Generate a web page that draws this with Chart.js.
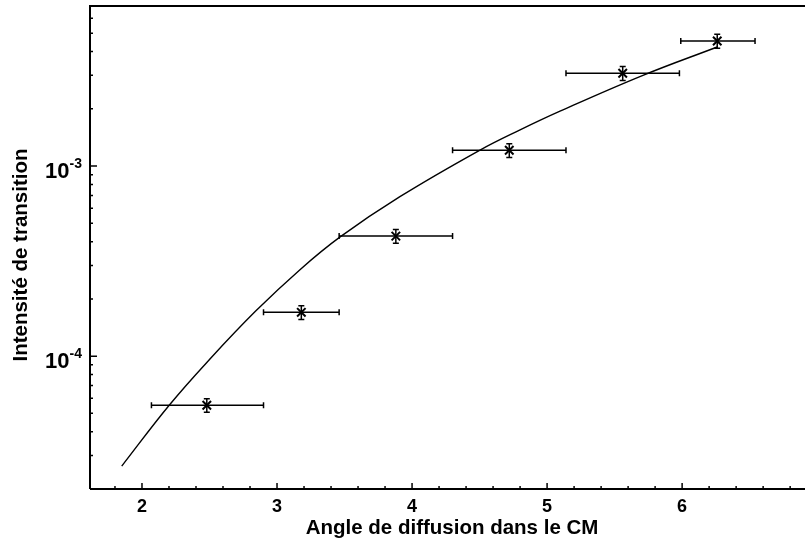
<!DOCTYPE html>
<html><head><meta charset="utf-8">
<script src="https://cdn.jsdelivr.net/npm/chart.js@4.4.1/dist/chart.umd.min.js"></script>
<style>html,body{margin:0;padding:0;background:#fff;overflow:hidden}canvas{display:block}</style>
</head><body>
<canvas id="c" width="805" height="542"></canvas>
<script>
// ---- data ----
const angle = [2.48, 3.18, 3.88, 4.72, 5.56, 6.26];
const intensity = [5.52e-5, 1.70e-4, 4.28e-4, 1.21e-3, 3.08e-3, 4.55e-3];
const angleLow = [2.07, 2.90, 3.46, 4.30, 5.14, 5.99];
const angleHigh = [2.90, 3.46, 4.30, 5.14, 5.98, 6.54];
const intensityErr = [0.45e-5, 0.14e-4, 0.35e-4, 0.10e-3, 0.26e-3, 0.38e-3];
const curveX = [1.85, 2.2, 2.5, 2.84, 3.17, 3.47, 3.91, 4.5, 4.8, 5.1, 5.71, 6.26];
const curveY = [2.64e-5, 5.5e-5, 9.6e-5, 1.72e-4, 2.85e-4, 4.25e-4, 6.9e-4, 1.21e-3, 1.55e-3, 1.95e-3, 3.0e-3, 4.23e-3];
const xTickValues = [2, 3, 4, 5, 6];
const xTickLabels = ['2', '3', '4', '5', '6'];
const yTickValues = [1e-4, 1e-3];
const yTickLabels = [['10', '-4'], ['10', '-3']];
const xAxisTitle = 'Angle de diffusion dans le CM';
const yAxisTitle = 'Intensité de transition';
const xRange = [1.615, 6.91];
const yRange = [2.0e-5, 6.95e-3];

const FONT = "'Liberation Sans Narrow','Liberation Sans',Arial,sans-serif";

const errorBars = {
  id: 'errorBars',
  afterDatasetsDraw(chart) {
    const ctx = chart.ctx, xs = chart.scales.x, ys = chart.scales.y;
    ctx.save();
    ctx.strokeStyle = '#000';
    ctx.lineWidth = 1.5;
    for (let i = 0; i < angle.length; i++) {
      const py = ys.getPixelForValue(intensity[i]);
      const px = xs.getPixelForValue(angle[i]);
      const x1 = xs.getPixelForValue(angleLow[i]);
      const x2 = xs.getPixelForValue(angleHigh[i]);
      const y1 = ys.getPixelForValue(intensity[i] - intensityErr[i]);
      const y2 = ys.getPixelForValue(intensity[i] + intensityErr[i]);
      ctx.beginPath();
      ctx.moveTo(x1, py); ctx.lineTo(x2, py);
      ctx.moveTo(x1, py - 3); ctx.lineTo(x1, py + 3);
      ctx.moveTo(x2, py - 3); ctx.lineTo(x2, py + 3);
      ctx.moveTo(px, y1); ctx.lineTo(px, y2);
      ctx.moveTo(px - 3, y1); ctx.lineTo(px + 3, y1);
      ctx.moveTo(px - 3, y2); ctx.lineTo(px + 3, y2);
      ctx.stroke();
    }
    ctx.restore();
  }
};

const decor = {
  id: 'decor',
  afterDraw(chart) {
    const ctx = chart.ctx, xs = chart.scales.x, ys = chart.scales.y, a = chart.chartArea;
    ctx.save();
    ctx.strokeStyle = '#000';
    ctx.fillStyle = '#000';
    // frame
    ctx.lineWidth = 2;
    ctx.beginPath();
    ctx.moveTo(a.left, a.bottom); ctx.lineTo(a.left, a.top); ctx.lineTo(a.right, a.top);
    ctx.moveTo(a.left, a.bottom); ctx.lineTo(a.right, a.bottom);
    ctx.stroke();
    // x ticks (inward)
    ctx.lineWidth = 1.5;
    ctx.beginPath();
    for (let k = Math.ceil(xRange[0] * 5); k <= Math.floor(xRange[1] * 5); k++) {
      const px = xs.getPixelForValue(k / 5);
      const len = (k % 5 === 0) ? 6 : 3;
      ctx.moveTo(px, a.bottom); ctx.lineTo(px, a.bottom - len);
    }
    // y ticks (inward, log)
    for (let d = -6; d <= -1; d++) {
      for (let m = 1; m <= 9; m++) {
        const v = m * Math.pow(10, d);
        if (v < yRange[0] || v > yRange[1]) continue;
        const py = ys.getPixelForValue(v);
        const len = (m === 1) ? 7 : 3;
        ctx.moveTo(a.left, py); ctx.lineTo(a.left + len, py);
      }
    }
    ctx.stroke();
    // x tick labels
    ctx.font = 'bold 18px ' + FONT;
    ctx.textAlign = 'center';
    ctx.textBaseline = 'alphabetic';
    xTickValues.forEach((v, i) => {
      ctx.fillText(xTickLabels[i], xs.getPixelForValue(v), a.bottom + 23);
    });
    // y tick labels with superscript
    yTickValues.forEach((v, i) => {
      const py = ys.getPixelForValue(v);
      ctx.font = 'bold 14px ' + FONT;
      const sw = ctx.measureText(yTickLabels[i][1]).width;
      ctx.textAlign = 'right';
      ctx.fillText(yTickLabels[i][1], 82, py + 2);
      ctx.font = 'bold 22px ' + FONT;
      ctx.fillText(yTickLabels[i][0], 82 - sw, py + 12);
    });
    // axis titles
    ctx.font = 'bold 20.5px ' + FONT;
    ctx.textAlign = 'center';
    ctx.fillText(xAxisTitle, 452, 534);
    ctx.translate(27, 255);
    ctx.rotate(-Math.PI / 2);
    ctx.fillText(yAxisTitle, 0, 0);
    ctx.restore();
  }
};

new Chart(document.getElementById('c'), {
  type: 'scatter',
  data: {
    datasets: [
      {
        type: 'line',
        data: curveX.map((x, i) => ({ x: x, y: curveY[i] })),
        borderColor: '#000',
        borderWidth: 1.4,
        pointRadius: 0,
        fill: false,
        tension: 0.4
      },
      {
        data: angle.map((x, i) => ({ x: x, y: intensity[i] })),
        pointStyle: 'crossRot',
        pointRadius: 6,
        borderColor: '#000',
        backgroundColor: '#000',
        borderWidth: 2
      }
    ]
  },
  options: {
    responsive: false,
    animation: false,
    layout: { autoPadding: false, padding: { left: 90, top: 6, right: 0, bottom: 53 } },
    plugins: { legend: { display: false }, tooltip: { enabled: false } },
    scales: {
      x: { type: 'linear', min: xRange[0], max: xRange[1], display: false },
      y: { type: 'logarithmic', min: yRange[0], max: yRange[1], display: false }
    }
  },
  plugins: [errorBars, decor]
});
</script>
</body></html>
